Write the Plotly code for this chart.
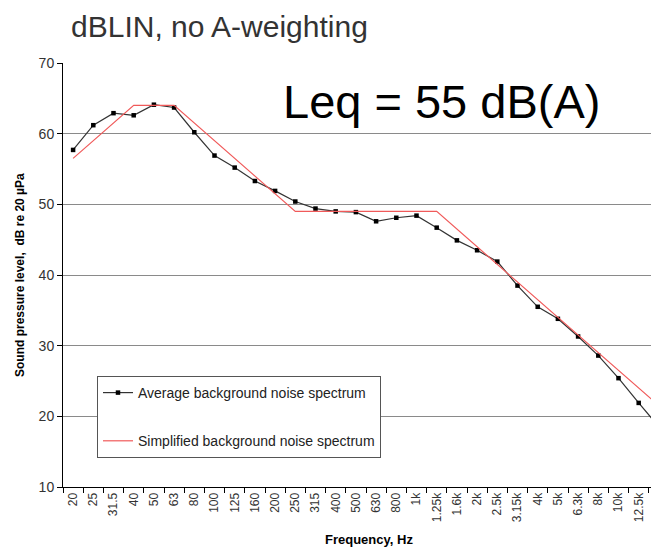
import plotly.graph_objects as go

bands = ["20", "25", "31.5", "40", "50", "63", "80", "100", "125", "160", "200", "250",
         "315", "400", "500", "630", "800", "1k", "1.25k", "1.6k", "2k", "2.5k", "3.15k",
         "4k", "5k", "6.3k", "8k", "10k", "12.5k", "16k"]

average_spectrum = [57.7, 61.2, 62.9, 62.6, 64.1, 63.7, 60.2, 56.9, 55.2, 53.3, 51.9, 50.4,
                    49.4, 49.0, 48.9, 47.6, 48.1, 48.4, 46.7, 44.9, 43.5, 41.9, 38.5,
                    35.5, 33.8, 31.3, 28.6, 25.4, 21.9, 18.5]

simplified_bands = ["20", "40", "63", "250", "1.25k", "16k"]
simplified_spectrum = [56.5, 64.0, 64.0, 49.0, 49.0, 21.5]

W, H = 651, 548
L, T, B = 63, 63, 61
PW = W - L
PH = H - T - B

fig = go.Figure()
fig.add_trace(go.Scatter(
    x=bands, y=average_spectrum, mode="lines+markers",
    name="Average background noise spectrum",
    line=dict(color="#333333", width=1.2),
    marker=dict(color="black", size=4.5, symbol="square"),
    legendgroup="a", cliponaxis=True))
fig.add_trace(go.Scatter(
    x=simplified_bands, y=simplified_spectrum, mode="lines",
    name="Simplified background noise spectrum",
    line=dict(color="#f05a5a", width=1.2),
    legendgroup="b", cliponaxis=True))

fig.update_layout(
    width=W, height=H,
    margin=dict(l=L, r=0, t=T, b=B, autoexpand=False),
    paper_bgcolor="white", plot_bgcolor="white",
    font=dict(family="Liberation Sans, Arial, sans-serif", color="#222222"),
    showlegend=True,
    legend=dict(x=(97 - L) / PW, y=(487 - 376) / PH, xanchor="left", yanchor="top",
                bgcolor="white", bordercolor="#555555", borderwidth=1,
                font=dict(size=14, color="#222222"), tracegroupgap=27,
                itemwidth=30),
    xaxis=dict(type="category", categoryorder="array", categoryarray=bands,
               range=[-0.5, -0.5 + PW / 20.2], tickson="boundaries",
               ticks="outside", ticklen=5, tickcolor="black",
               showline=True, linecolor="black", linewidth=1,
               showgrid=False, tickangle=-90, automargin=False,
               tickfont=dict(size=12, color="#333333")),
    yaxis=dict(range=[10, 70], dtick=10, ticks="outside", ticklen=5, tickcolor="black",
               showline=True, linecolor="black", linewidth=1,
               showgrid=True, gridcolor="#8a8a8a", gridwidth=1, automargin=False,
               zeroline=False, tickfont=dict(size=14, color="#333333")),
)

fig.add_annotation(text="dBLIN, no A-weighting", xref="paper", yref="paper",
                   x=(69 - L) / PW, y=(H - B - 26) / PH, xanchor="left", yanchor="middle",
                   showarrow=False, font=dict(size=30, color="#333333"))
fig.add_annotation(text="Leq = 55 dB(A)", xref="paper", yref="paper",
                   x=(281 - L) / PW, y=(H - B - 102) / PH, xanchor="left", yanchor="middle",
                   showarrow=False, font=dict(size=47, color="black"))
fig.add_annotation(text="<b>Sound pressure level,  dB re 20 µPa</b>", xref="paper", yref="paper",
                   x=(20 - L) / PW, y=(H - B - 275) / PH, xanchor="center", yanchor="middle",
                   textangle=-90, showarrow=False, font=dict(size=12, color="black"))
fig.add_annotation(text="<b>Frequency, Hz</b>", xref="paper", yref="paper",
                   x=(369 - L) / PW, y=(H - B - 539) / PH, xanchor="center", yanchor="middle",
                   showarrow=False, font=dict(size=13, color="black"))

fig.write_html("out.html", config={"displayModeBar": False},
               post_script="document.body.style.margin='0';")
